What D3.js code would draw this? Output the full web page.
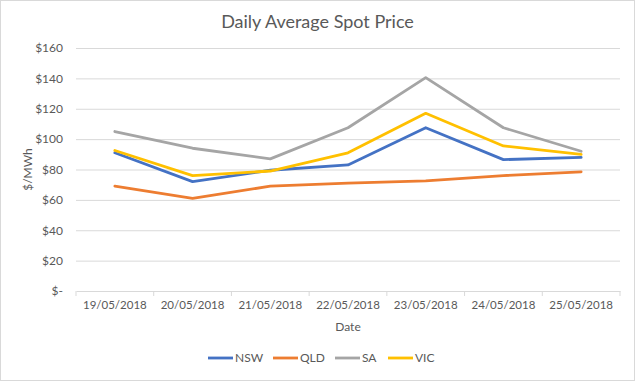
<!DOCTYPE html>
<html lang="en">
<head>
<meta charset="UTF-8">
<script src="https://d3js.org/d3.v7.min.js"></script>
<title>Daily Average Spot Price</title>
<style>
  body { margin: 0; background: #fff; }
  text { font-family: Lato, "Open Sans", sans-serif; fill: #595959; }
</style>
</head>
<body>
<svg id="chart" width="635" height="381"></svg>
<script>
const dates = ["19/05/2018", "20/05/2018", "21/05/2018", "22/05/2018", "23/05/2018", "24/05/2018", "25/05/2018"];
const regions = ["NSW", "QLD", "SA", "VIC"];
const nsw = [91, 72, 79.5, 83, 107.5, 86.5, 88];
const qld = [69, 61, 69, 71, 72.5, 76, 78.5];
const sa  = [105, 94, 87, 107.5, 140.5, 107.5, 92];
const vic = [92.5, 76, 79, 91, 117, 95.5, 90];
const yTicks = [0, 20, 40, 60, 80, 100, 120, 140, 160];
const colours = ["#4472C4", "#ED7D31", "#A5A5A5", "#FFC000"];

const series = [nsw, qld, sa, vic];

const svg = d3.select("#chart");
const W = 635, H = 381;
const m = { left: 76, right: 15, top: 48, bottom: 90 };

svg.append("rect")
  .attr("x", 0.5).attr("y", 0.5)
  .attr("width", W - 1).attr("height", H - 1)
  .attr("fill", "#fff").attr("stroke", "#d9d9d9");

const x = d3.scaleBand().domain(dates).range([m.left, W - m.right]);
const y = d3.scaleLinear().domain([0, 160]).range([H - m.bottom, m.top]);

// gridlines + y labels
const yAxis = d3.axisLeft(y).tickValues(yTicks)
  .tickSize(-(W - m.right - m.left))
  .tickFormat(d => d === 0 ? "$-" : "$" + d);
const gy = svg.append("g").attr("transform", `translate(${m.left},0)`).call(yAxis);
gy.select(".domain").remove();
gy.selectAll("line").attr("stroke", "#d9d9d9");
gy.selectAll(".tick").filter(d => d === 0).select("line").remove();
gy.selectAll("text").attr("x", -13).style("font-size", "12px").attr("fill", "#595959");

// x axis
const xAxis = d3.axisBottom(x).tickSize(0).tickPadding(10);
const gx = svg.append("g").attr("transform", `translate(0,${y(0)})`).call(xAxis);
gx.select(".domain").attr("stroke", "#d9d9d9");
gx.selectAll("text").style("font-size", "11.5px").attr("fill", "#595959");
const bounds = dates.map(d => x(d)).concat([x(dates[dates.length - 1]) + x.bandwidth()]);
gx.selectAll("line.bound").data(bounds).join("line")
  .attr("class", "bound")
  .attr("x1", d => d).attr("x2", d => d)
  .attr("y1", 0).attr("y2", 5)
  .attr("stroke", "#d9d9d9");

// lines
const line = d3.line()
  .x((d, i) => x(dates[i]) + x.bandwidth() / 2)
  .y(d => y(d));
svg.selectAll("path.series").data(series).join("path")
  .attr("class", "series")
  .attr("d", line)
  .attr("fill", "none")
  .attr("stroke", (d, i) => colours[i])
  .attr("stroke-width", 2.8)
  .attr("stroke-linejoin", "round")
  .attr("stroke-linecap", "round");

// titles
svg.append("text").attr("x", W / 2).attr("y", 28)
  .attr("text-anchor", "middle").style("font-size", "18px")
  .text("Daily Average Spot Price");
svg.append("text").attr("x", (m.left + W - m.right) / 2).attr("y", 331)
  .attr("text-anchor", "middle").style("font-size", "12px")
  .text("Date");
svg.append("text")
  .attr("transform", `translate(32,${(y(0) + y(160)) / 2}) rotate(-90)`)
  .attr("text-anchor", "middle").style("font-size", "12px")
  .text("$/MWh");

// legend
const legendX = [208, 273, 335, 388];
const lg = svg.selectAll("g.leg").data(regions).join("g")
  .attr("class", "leg")
  .attr("transform", (d, i) => `translate(${legendX[i]},358)`);
lg.append("line").attr("x1", 0).attr("x2", 25).attr("y1", 0).attr("y2", 0)
  .attr("stroke", (d, i) => colours[i]).attr("stroke-width", 2.8);
lg.append("text").attr("x", 27).attr("y", 4).style("font-size", "12px").text(d => d);
</script>
</body>
</html>
